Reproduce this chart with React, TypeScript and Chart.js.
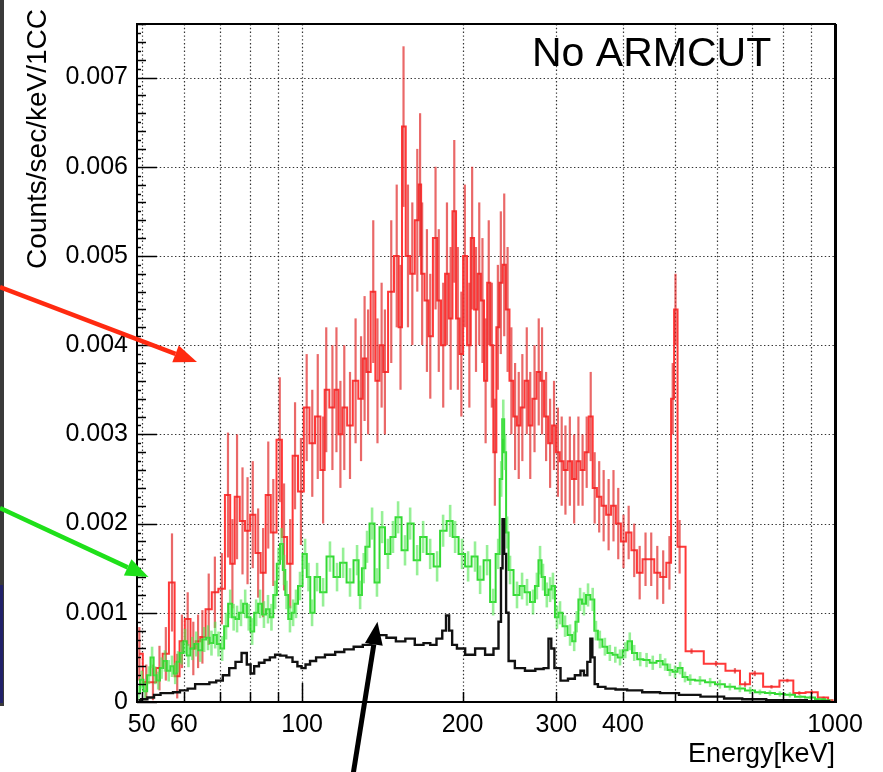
import React, { useEffect, useRef } from 'react';
import { Chart, registerables } from 'chart.js';

Chart.register(...registerables);

const FONT = '"Liberation Sans", Arial, Helvetica, sans-serif';

// Axes
const X_MIN = 49;
const X_MAX = 1000;
const Y_MIN = 0;
const Y_MAX = 0.0076;
const X_GRID = [50, 60, 70, 80, 90, 100, 200, 300, 400, 500, 600, 700, 800, 900, 1000];
const X_LABELS = [50, 60, 100, 200, 300, 400, 1000];
const Y_TICKS = [0, 0.001, 0.002, 0.003, 0.004, 0.005, 0.006, 0.007];
const X_TITLE = 'Energy[keV]';
const Y_TITLE = 'Counts/sec/keV/1CC';
const PANEL_TEXT = 'No ARMCUT';

// Red histogram (bin centre energy keV, value, error)
const RED_E = [
  49.5, 51, 52.5, 54, 55.5, 57, 58.3, 59.5, 61, 62.5,
  63.8, 65, 66.8, 68.6, 70.7, 72.6, 74, 75.5, 77.3, 79,
  80.8, 82.7, 84.5, 86.4, 88.3, 90.8, 92.5, 95, 97, 99.5,
  102, 104.5, 107, 109.5, 111, 114, 116, 118, 120, 123,
  126, 129, 131, 133, 136, 138.5, 141, 143, 147, 150.5,
  153, 155, 158, 161, 164.5, 166.5, 168, 171.5, 174, 178,
  180.5, 184, 187, 190, 193, 196, 199, 202, 206, 208.5,
  212, 215, 218, 221, 224, 227, 230, 233, 236, 239.5,
  243, 247, 251, 255, 259, 264, 268, 273, 278, 282,
  287, 292, 297, 302, 307, 312, 318, 324, 330, 336,
  342, 348, 354, 361, 368, 376, 384, 392, 401, 410,
  420, 430, 441, 452, 464, 476, 489, 496, 502, 511,
  538, 598, 649, 678, 707, 760, 814, 857, 905, 952, 990,
];
const RED_V = [
  0.00054, 0.00022, 0.00022, 0.00038, 0.00054, 0.00134, 0.00029, 0.00068, 0.00093, 0.0006,
  0.00068, 0.00073, 0.00104, 0.00123, 0.00127, 0.00232, 0.00155, 0.0023, 0.00203, 0.00192,
  0.0021, 0.00167, 0.00145, 0.00232, 0.0019, 0.00294, 0.00185, 0.00155, 0.00276, 0.00236,
  0.0033, 0.0029, 0.0032, 0.0026, 0.0035, 0.0033, 0.0035, 0.003, 0.0033, 0.0031,
  0.0036, 0.0034, 0.00385, 0.0037, 0.0046, 0.0036, 0.004, 0.0037, 0.0046, 0.005,
  0.0042, 0.00645, 0.005, 0.0048, 0.0054, 0.0058, 0.0048, 0.0045, 0.0041, 0.0052,
  0.0045, 0.004, 0.0048, 0.0043, 0.0055, 0.0043, 0.0039, 0.005, 0.004, 0.0052,
  0.0044, 0.0048, 0.0045, 0.0036, 0.0047, 0.004, 0.0028, 0.0042, 0.0047, 0.0049,
  0.0044, 0.0036, 0.0032, 0.0031, 0.0033, 0.0036, 0.0031, 0.0034, 0.0037, 0.0036,
  0.0032, 0.0029, 0.0031, 0.0028, 0.0027, 0.0026, 0.0027, 0.0025, 0.0027, 0.0026,
  0.0028, 0.0032, 0.0024, 0.0023, 0.0022, 0.0021, 0.0022, 0.002, 0.0018, 0.0019,
  0.0017, 0.00145, 0.0016, 0.0016, 0.00145, 0.0014, 0.00156, 0.0034, 0.0044, 0.00174,
  0.00057, 0.00043, 0.00035, 0.0002, 0.00032, 0.00017, 0.00024, 0.0001, 0.00011, 0.00005, 0.00002,
];
const RED_ERR = [
  0.0003, 0.0002, 0.0002, 0.00025, 0.0003, 0.00055, 0.00025, 0.0003, 0.0003, 0.0003,
  0.0003, 0.0003, 0.0004, 0.0004, 0.0004, 0.0007, 0.0005, 0.0007, 0.0006, 0.0006,
  0.0006, 0.0005, 0.0005, 0.0006, 0.0006, 0.0007, 0.0006, 0.0005, 0.0006, 0.0006,
  0.0006, 0.0006, 0.0007, 0.0006, 0.0007, 0.0007, 0.0007, 0.0006, 0.0007, 0.0006,
  0.0007, 0.0007, 0.0007, 0.0007, 0.0008, 0.0007, 0.0007, 0.0007, 0.0008, 0.0008,
  0.0007, 0.0009, 0.0008, 0.0008, 0.0008, 0.0008, 0.0008, 0.0008, 0.0007, 0.0008,
  0.0008, 0.0007, 0.0008, 0.0008, 0.0008, 0.0008, 0.0007, 0.0008, 0.0007, 0.0008,
  0.0007, 0.0008, 0.0007, 0.0007, 0.0007, 0.0007, 0.0006, 0.0007, 0.0008, 0.0008,
  0.0007, 0.0006, 0.0006, 0.0006, 0.0006, 0.0006, 0.0006, 0.0006, 0.0006, 0.0006,
  0.0005, 0.0005, 0.0005, 0.0005, 0.0005, 0.0005, 0.0005, 0.0005, 0.0005, 0.0004,
  0.0004, 0.0005, 0.0004, 0.0004, 0.0004, 0.0004, 0.0004, 0.0004, 0.0003, 0.0003,
  0.0003, 0.0003, 0.0003, 0.0003, 0.0003, 0.0003, 0.0003, 0.0004, 0.0004, 0.0003,
  0.00003, 0.00003, 0.00003, 0.00003, 0.00003, 0.00002, 0.00002, 0.00002, 0.00002, 0.00001, 0.00001,
];

// Green histogram
const GREEN_E = [
  49.3, 50, 50.8, 51.6, 52.3, 53, 53.7, 54.5, 55.3, 56.2,
  57, 57.8, 58.5, 59.4, 60.3, 61.2, 62.2, 63.3, 64.4, 65.5,
  66.6, 67.6, 68.7, 69.7, 70.8, 72, 73.3, 74.4, 75.5, 76.8,
  78.2, 79.4, 80.6, 82, 83.4, 84.8, 86.3, 87.6, 89, 90.3,
  91.5, 92.5, 93.5, 94.9, 96.2, 97.4, 99.1, 101.3, 102.8, 104.4,
  106.7, 109.5, 112.8, 116.3, 119.4, 123, 126.8, 128.5, 130.5, 132.4,
  135.3, 138.2, 141.3, 144.9, 148.1, 151.4, 156, 159.5, 164.4, 168.7,
  173.9, 179.2, 183.9, 189.6, 193.7, 199.6, 204.9, 211.1, 215.8, 222.4,
  228.3, 233.3, 236.4, 238.5, 240.4, 242.5, 245.6, 253.1, 258.7, 264.3,
  271.2, 275.8, 279.6, 283.2, 287.9, 292, 295.6, 300.8, 304.8, 311.5,
  318.3, 324, 327.6, 332.4, 338, 344, 351, 356, 362, 370,
  378, 387, 395, 404, 412, 420, 431, 443, 455, 470,
  480, 490, 501, 512, 523, 535, 558, 583, 608, 635,
  663, 693, 723, 755, 788, 823, 860, 898, 937, 979,
];
const GREEN_V = [
  0.0001, 0.00025, 0.00012, 0.0003, 0.0005, 0.0003, 0.00024, 0.00038, 0.00046, 0.00035,
  0.0004, 0.00032, 0.00045, 0.00055, 0.00068, 0.00052, 0.0006, 0.00065, 0.00058, 0.0007,
  0.00072, 0.00066, 0.00075, 0.00065, 0.0006, 0.00085, 0.0011, 0.00095, 0.00093, 0.001,
  0.0011, 0.00095, 0.00079, 0.001, 0.0011, 0.00098, 0.00104, 0.00095, 0.0012, 0.00155,
  0.00177, 0.00148, 0.0012, 0.00093, 0.001, 0.0011, 0.0013, 0.00166, 0.0014, 0.001,
  0.0014, 0.00123, 0.00163, 0.0014, 0.00156, 0.00134, 0.00159, 0.0012, 0.0015, 0.00174,
  0.002, 0.00134, 0.00196, 0.00166, 0.00185, 0.00207, 0.0017, 0.002, 0.00159, 0.00185,
  0.00166, 0.00152, 0.00192, 0.00203, 0.00185, 0.00166, 0.00152, 0.00163, 0.00137, 0.00159,
  0.00112, 0.00166, 0.0025, 0.00317, 0.0028, 0.0019, 0.00148, 0.0012, 0.0013, 0.00123,
  0.00112, 0.0013, 0.00159, 0.0014, 0.0012, 0.00126, 0.0013, 0.00095, 0.001, 0.00085,
  0.00075, 0.00068, 0.0009, 0.00115, 0.0011, 0.0012, 0.00115, 0.0008, 0.0007, 0.00062,
  0.00055, 0.00053, 0.0005, 0.00058, 0.00068, 0.00055, 0.00048, 0.00047, 0.00044, 0.00046,
  0.00042, 0.00036, 0.00034, 0.00038, 0.00028, 0.00025, 0.00024, 0.00022, 0.0002, 0.00017,
  0.00015, 0.00013, 0.00011, 0.0001, 0.00009, 0.00008, 0.00006, 0.00005, 0.00003, 0.00002,
];
const GREEN_ERR = [
  0.00008, 0.0001, 0.0001, 0.0001, 0.00012, 0.0001, 0.0001, 0.00012, 0.00012, 0.00012,
  0.00012, 0.00012, 0.00012, 0.00013, 0.00014, 0.00013, 0.00013, 0.00014, 0.00013, 0.00014,
  0.00014, 0.00014, 0.00015, 0.00014, 0.00014, 0.00015, 0.00016, 0.00015, 0.00015, 0.00015,
  0.00016, 0.00015, 0.00015, 0.00015, 0.00016, 0.00015, 0.00016, 0.00015, 0.00016, 0.00018,
  0.00018, 0.00017, 0.00016, 0.00015, 0.00015, 0.00016, 0.00016, 0.00017, 0.00016, 0.00015,
  0.00016, 0.00016, 0.00017, 0.00016, 0.00017, 0.00016, 0.00017, 0.00016, 0.00017, 0.00018,
  0.00018, 0.00016, 0.00018, 0.00017, 0.00018, 0.00018, 0.00017, 0.00018, 0.00017, 0.00018,
  0.00017, 0.00017, 0.00018, 0.00018, 0.00018, 0.00017, 0.00017, 0.00017, 0.00016, 0.00017,
  0.00015, 0.00017, 0.0002, 0.00022, 0.0002, 0.00018, 0.00016, 0.00015, 0.00015, 0.00015,
  0.00014, 0.00015, 0.00016, 0.00015, 0.00014, 0.00014, 0.00015, 0.00013, 0.00013, 0.00012,
  0.00012, 0.00011, 0.00012, 0.00013, 0.00013, 0.00013, 0.00013, 0.00011, 0.0001, 0.0001,
  0.00009, 0.00009, 0.00009, 0.00009, 0.0001, 0.00009, 0.00008, 0.00008, 0.00008, 0.00008,
  0.00007, 0.00007, 0.00007, 0.00007, 0.00006, 0.00006, 0.00005, 0.00005, 0.00005, 0.00004,
  0.00004, 0.00004, 0.00003, 0.00003, 0.00003, 0.00003, 0.00002, 0.00002, 0.00002, 0.00001,
];

// Black histogram
const BLACK_E = [
  49.3, 50.5, 52, 53.5, 55, 56.5, 58, 60, 62, 64,
  66, 68, 70, 72, 74, 76, 78, 79.5, 80.6, 82,
  84, 86, 88, 90, 92, 94.9, 97, 99, 100.5, 102.5,
  104.5, 108, 112.8, 118, 122, 128, 132, 137, 141, 147,
  153, 159.5, 166, 172, 176, 181.5, 185, 187.5, 190, 192.5,
  198, 206.7, 215.8, 225.3, 232, 235.3, 237, 238.5, 240.4, 242.5,
  245.6, 256, 268, 280, 288, 292, 295, 300, 311, 320,
  330, 336, 340, 346, 349, 352, 356, 362, 380, 395,
  420, 450, 490, 530, 590, 650, 690, 800, 980,
];
const BLACK_V = [
  0.00002, 0.00003, 0.00005, 0.00008, 0.0001, 0.0001, 0.00011, 0.00013, 0.00015, 0.0002,
  0.0002, 0.00022, 0.00024, 0.0003, 0.00038, 0.00045, 0.00055, 0.00042, 0.00032, 0.0004,
  0.00044, 0.00047, 0.0005, 0.00053, 0.00052, 0.0005, 0.00045, 0.0004, 0.00038, 0.00042,
  0.00046, 0.0005, 0.00053, 0.00056, 0.00059, 0.00062, 0.00064, 0.00072, 0.00075, 0.00072,
  0.00068, 0.00071, 0.00064, 0.00066, 0.00064, 0.00071, 0.0008, 0.00097, 0.0008, 0.00064,
  0.0006, 0.00053, 0.0006, 0.00053, 0.0006, 0.0009, 0.0015, 0.00205, 0.00166, 0.001,
  0.00046, 0.00038, 0.00035, 0.00037, 0.00038, 0.00071, 0.0006, 0.00038, 0.00024, 0.00026,
  0.0003, 0.00035, 0.0003, 0.00045, 0.00071, 0.0005, 0.0002, 0.00017, 0.00015, 0.00014,
  0.00013, 0.00011, 0.0001, 0.00008, 0.00006, 0.00004, 0.00003, 0.00002, 0.00001,
];

// Arrow annotations: tip in data coords, tail in canvas pixels
const ARROWS = [
  { color: '#ff2a10', tipE: 63.5, tipV: 0.00381, tailX: 0, tailY: 287, width: 4.5 },
  { color: '#1fe01a', tipE: 51.5, tipV: 0.00140, tailX: 0, tailY: 508, width: 4.5 },
  { color: '#000000', tipE: 138.5, tipV: 0.00090, tailX: 353, tailY: 775, width: 5 },
];

const toPoints = (e: number[], v: number[]) => e.map((x, i) => ({ x, y: v[i] }));

const rootStyle = {
  id: 'rootStyle',
  beforeDatasetsDraw(chart: any) {
    const { ctx, chartArea: a, scales } = chart;
    const x = scales.x, y = scales.y;
    ctx.save();
    ctx.strokeStyle = 'rgba(30,30,30,0.9)';
    ctx.lineWidth = 1.2;
    ctx.setLineDash([1.4, 2.4]);
    X_GRID.forEach((v) => {
      const px = Math.round(x.getPixelForValue(v)) + 0.5;
      ctx.beginPath();
      ctx.moveTo(px, a.top);
      ctx.lineTo(px, a.bottom);
      ctx.stroke();
    });
    Y_TICKS.slice(1).forEach((v) => {
      const py = Math.round(y.getPixelForValue(v)) + 0.5;
      ctx.beginPath();
      ctx.moveTo(a.left, py);
      ctx.lineTo(a.right, py);
      ctx.stroke();
    });
    ctx.restore();
  },
  afterDatasetDraw(chart: any, args: any) {
    const ds = chart.data.datasets[args.index];
    if (!ds.errors) return;
    const { ctx, chartArea: a, scales } = chart;
    const x = scales.x, y = scales.y;
    ctx.save();
    ctx.beginPath();
    ctx.rect(a.left, a.top, a.right - a.left, a.bottom - a.top);
    ctx.clip();
    ctx.strokeStyle = ds.errColor;
    ctx.lineWidth = ds.errWidth;
    ds.data.forEach((p: any, i: number) => {
      const e = ds.errors[i];
      const px = x.getPixelForValue(p.x);
      ctx.beginPath();
      ctx.moveTo(px, y.getPixelForValue(Math.max(0, p.y - e)));
      ctx.lineTo(px, y.getPixelForValue(p.y + e));
      ctx.stroke();
    });
    ctx.restore();
  },
  afterDatasetsDraw(chart: any) {
    const { ctx, chartArea: a, scales } = chart;
    const x = scales.x, y = scales.y;
    ctx.save();
    ctx.strokeStyle = '#000';
    // y ticks
    ctx.lineWidth = 1.5;
    for (let k = 0; k <= 76; k++) {
      const v = k * 0.0001;
      const py = Math.round(y.getPixelForValue(v)) + 0.5;
      const len = k % 10 === 0 ? 20 : k % 2 === 0 ? 9 : 4;
      ctx.beginPath();
      ctx.moveTo(a.left, py);
      ctx.lineTo(a.left + len, py);
      ctx.stroke();
    }
    // x ticks
    X_GRID.forEach((v) => {
      const px = Math.round(x.getPixelForValue(v)) + 0.5;
      const len = v === 100 || v === 1000 ? 19 : 10;
      ctx.beginPath();
      ctx.moveTo(px, a.bottom);
      ctx.lineTo(px, a.bottom - len);
      ctx.stroke();
    });
    // frame
    ctx.lineWidth = 2;
    ctx.strokeRect(a.left, a.top, a.right - a.left, a.bottom - a.top);
    ctx.lineWidth = 3;
    ctx.beginPath();
    ctx.moveTo(a.right + 0.5, a.top);
    ctx.lineTo(a.right + 0.5, a.bottom + 1);
    ctx.stroke();
    ctx.restore();
  },
  afterDraw(chart: any) {
    const { ctx, chartArea: a, scales } = chart;
    const x = scales.x, y = scales.y;
    ctx.save();
    // left dark strip (slide edge)
    ctx.fillStyle = '#3a3a3a';
    ctx.fillRect(0, 0, 4, 706);
    ctx.fillStyle = '#22226a';
    ctx.fillRect(0, 585, 3, 118);

    // titles
    ctx.fillStyle = '#000';
    ctx.font = `27px ${FONT}`;
    ctx.textAlign = 'right';
    ctx.textBaseline = 'alphabetic';
    ctx.fillText(X_TITLE, a.right, 762);
    ctx.save();
    ctx.translate(46, 9);
    ctx.rotate(-Math.PI / 2);
    ctx.textAlign = 'right';
    ctx.font = `28px ${FONT}`;
    ctx.fillText(Y_TITLE, 0, 0);
    ctx.restore();
    ctx.font = `41px ${FONT}`;
    ctx.textAlign = 'left';
    ctx.fillText(PANEL_TEXT, 532, 66);

    // arrows
    ARROWS.forEach((ar) => {
      const tx = x.getPixelForValue(ar.tipE);
      const ty = y.getPixelForValue(ar.tipV);
      const ang = Math.atan2(ty - ar.tailY, tx - ar.tailX);
      const head = 23, half = 9;
      const bx = tx - head * Math.cos(ang);
      const by = ty - head * Math.sin(ang);
      ctx.strokeStyle = ar.color;
      ctx.fillStyle = ar.color;
      ctx.lineWidth = ar.width;
      ctx.beginPath();
      ctx.moveTo(ar.tailX, ar.tailY);
      ctx.lineTo(bx, by);
      ctx.stroke();
      ctx.beginPath();
      ctx.moveTo(tx, ty);
      ctx.lineTo(bx + half * Math.sin(ang), by - half * Math.cos(ang));
      ctx.lineTo(bx - half * Math.sin(ang), by + half * Math.cos(ang));
      ctx.closePath();
      ctx.fill();
    });
    ctx.restore();
  },
};

export default function App() {
  const canvasRef = useRef<HTMLCanvasElement | null>(null);

  useEffect(() => {
    if (!canvasRef.current) return;
    const chart = new Chart(canvasRef.current, {
      type: 'line',
      data: {
        datasets: [
          {
            label: 'red',
            data: toPoints(RED_E, RED_V),
            errors: RED_ERR,
            errColor: 'rgba(225,40,40,0.7)',
            errWidth: 2.2,
            borderColor: 'rgba(255,45,45,0.95)',
            borderWidth: 2,
            stepped: 'middle',
            pointRadius: 0,
            fill: false,
            order: 3,
          } as any,
          {
            label: 'green',
            data: toPoints(GREEN_E, GREEN_V),
            errors: GREEN_ERR,
            errColor: 'rgba(80,230,80,0.6)',
            errWidth: 2.6,
            borderColor: 'rgba(40,215,40,0.95)',
            borderWidth: 2,
            stepped: 'middle',
            pointRadius: 0,
            fill: false,
            order: 2,
          } as any,
          {
            label: 'black',
            data: toPoints(BLACK_E, BLACK_V),
            borderColor: '#111',
            borderWidth: 2.4,
            stepped: 'middle',
            pointRadius: 0,
            fill: false,
            order: 1,
          } as any,
        ],
      },
      options: {
        responsive: true,
        maintainAspectRatio: false,
        animation: false,
        layout: { padding: { top: 8, right: 48, left: 0, bottom: 0 } },
        plugins: { legend: { display: false }, tooltip: { enabled: false } },
        scales: {
          x: {
            type: 'logarithmic',
            min: X_MIN,
            max: X_MAX,
            afterBuildTicks: (s: any) => {
              s.ticks = X_GRID.map((v) => ({ value: v }));
            },
            afterFit: (s: any) => {
              s.height = 70;
            },
            grid: { display: false, drawTicks: false },
            border: { display: false },
            ticks: {
              autoSkip: false,
              maxRotation: 0,
              minRotation: 0,
              padding: 8,
              color: '#000',
              font: { family: FONT, size: 25 },
              callback: (v: any) => (X_LABELS.includes(Number(v)) ? String(v) : ''),
            },
          },
          y: {
            type: 'linear',
            min: Y_MIN,
            max: Y_MAX,
            afterBuildTicks: (s: any) => {
              s.ticks = Y_TICKS.map((v) => ({ value: v }));
            },
            afterFit: (s: any) => {
              s.width = 137;
            },
            grid: { display: false, drawTicks: false },
            border: { display: false },
            ticks: {
              padding: 9,
              color: '#000',
              font: { family: FONT, size: 25 },
              callback: (v: any) => (Number(v) === 0 ? '0' : Number(v).toFixed(3)),
            },
          },
        },
      } as any,
      plugins: [rootStyle as any],
    });
    return () => chart.destroy();
  }, []);

  return (
    <div style={{ position: 'fixed', left: 0, top: 0, width: 883, height: 772, background: '#fff' }}>
      <canvas ref={canvasRef} />
    </div>
  );
}
